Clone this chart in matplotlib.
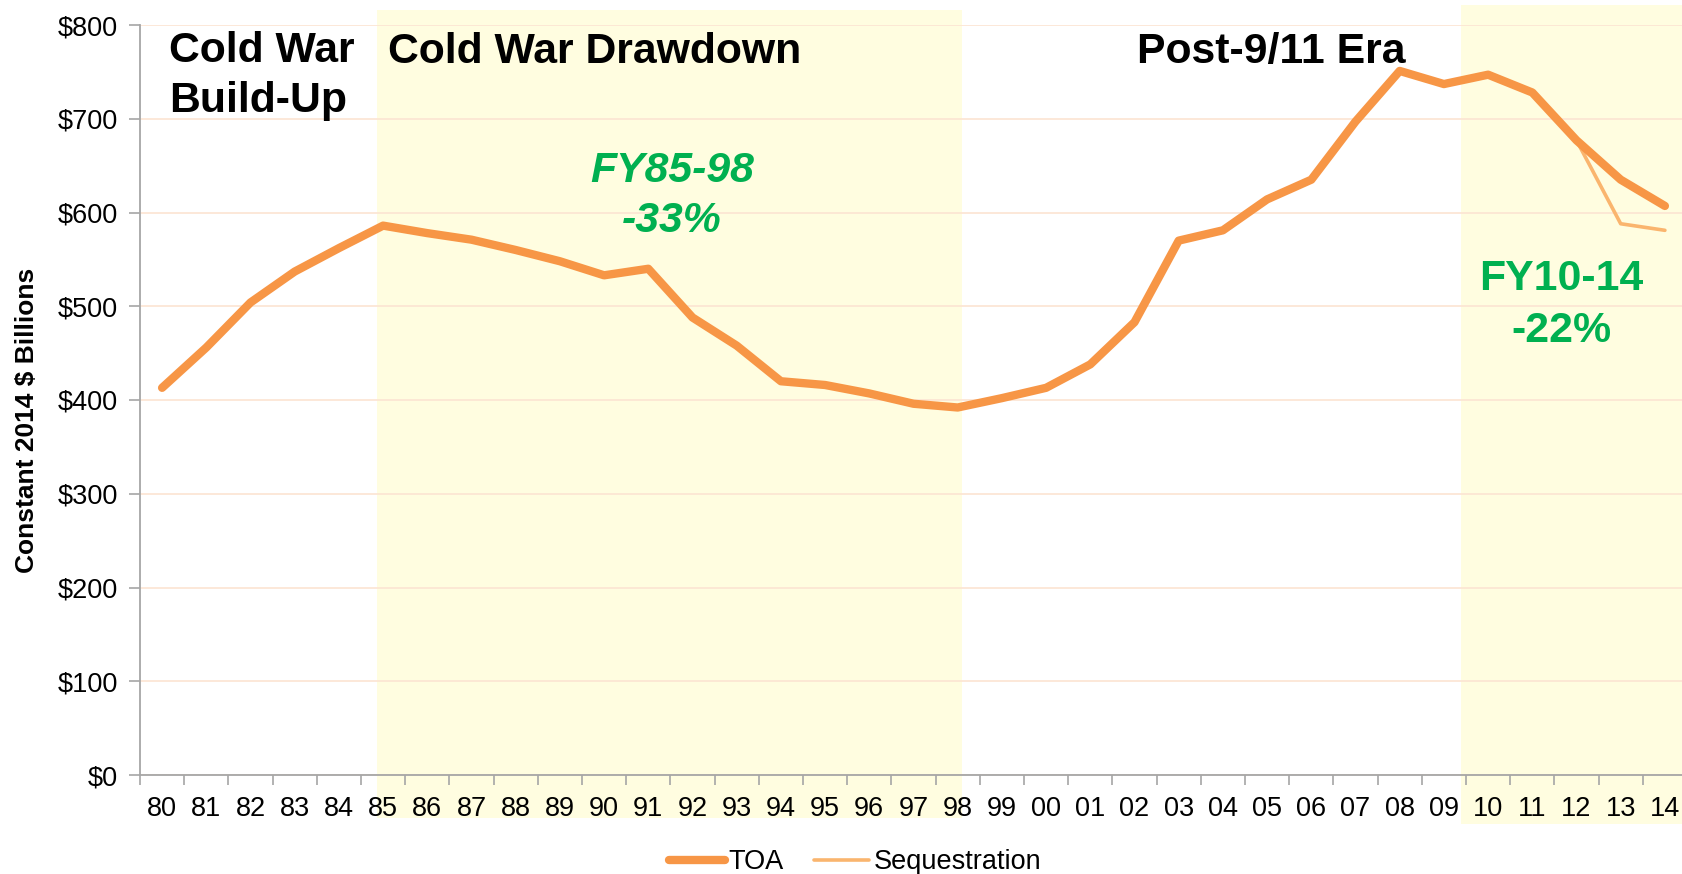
import numpy as np
import matplotlib.pyplot as plt
from matplotlib.patches import Rectangle

plt.rcParams['font.family'] = ['Liberation Sans', 'DejaVu Sans']

# fiscal years (category axis)
years = ['80', '81', '82', '83', '84', '85', '86', '87', '88', '89', '90', '91',
         '92', '93', '94', '95', '96', '97', '98', '99', '00', '01', '02', '03',
         '04', '05', '06', '07', '08', '09', '10', '11', '12', '13', '14']
toa = [413, 456, 504, 537, 562, 586, 578, 571, 560, 548, 533, 540,
       488, 458, 420, 416, 407, 396, 392, 402, 413, 438, 483, 570,
       581, 614, 635, 697, 751, 737, 747, 728, 677, 635, 607]
seq_years = ['12', '13', '14']
seq = [677, 588, 581]

y_ticks = [0, 100, 200, 300, 400, 500, 600, 700, 800]

orange = '#F79646'
light_orange = '#FAB56E'
green = '#00B050'
band = '#FFFDE0'

W, H = 1682, 874
fig = plt.figure(figsize=(W / 100, H / 100), dpi=100)
ax = fig.add_axes([140 / W, 1 - 775 / H, 1547 / W, 750 / H])

x = np.arange(len(years))
xs = np.array([years.index(y) for y in seq_years])

ax.plot(xs, seq, color=light_orange, lw=2.6, solid_capstyle='round', zorder=3, label='Sequestration')
ax.plot(x, toa, color=orange, lw=6, solid_capstyle='round', solid_joinstyle='round', zorder=4, label='TOA')

ax.set_xlim(-0.5, len(years) - 0.5)
ax.set_ylim(0, 800)

# shaded periods (extend beyond the axes like the original)
ax.add_patch(Rectangle((4.86, -46), 18.09 - 4.86, 862, facecolor=band, edgecolor='none',
                       zorder=0, clip_on=False))
ax.add_patch(Rectangle((29.38, -52), 6, 873, facecolor=band, edgecolor='none',
                       zorder=0, clip_on=False))

ax.set_axisbelow(True)
ax.set_yticks(y_ticks)
ax.set_yticklabels(['${}'.format(v) for v in y_ticks])
ax.grid(axis='y', color='#FCE4D2', lw=1.2)
ax.set_xticks(np.arange(len(years) + 1) - 0.5)
ax.set_xticklabels([])
ax.set_xticks(x, minor=True)
ax.set_xticklabels(years, minor=True)
ax.tick_params(axis='x', which='major', length=7, color='#A6A6A6', width=1.2)
ax.tick_params(axis='x', which='minor', length=0, pad=15, labelsize=19.5)
ax.tick_params(axis='y', length=7.7, color='#A6A6A6', width=1.2, pad=8, labelsize=19.5)

for s in ['top', 'right']:
    ax.spines[s].set_visible(False)
for s in ['left', 'bottom']:
    ax.spines[s].set_color('#A6A6A6')
    ax.spines[s].set_linewidth(1.3)

fig.text(27 / W, 1 - 420 / H, 'Constant 2014 $ Billions', rotation=90, ha='center', va='center',
         fontsize=19, fontweight='bold')

big = dict(fontsize=30.8, fontweight='bold', va='baseline')
fig.text(169 / W, 1 - 62 / H, 'Cold War', **big)
fig.text(169 / W, 1 - 112 / H, 'Build-Up', **big)
fig.text(388 / W, 1 - 63 / H, 'Cold War Drawdown', **big)
fig.text(1137 / W, 1 - 63 / H, 'Post-9/11 Era', **big)

note = dict(fontsize=30.8, fontweight='bold', color=green, ha='center', va='baseline')
fig.text(672 / W, 1 - 182 / H, 'FY85-98', style='italic', **note)
fig.text(672 / W, 1 - 232 / H, '-33%', style='italic', **note)
fig.text(1561 / W, 1 - 290 / H, 'FY10-14', **note)
fig.text(1561 / W, 1 - 342 / H, '-22%', **note)

h, l = ax.get_legend_handles_labels()
fig.legend(h[::-1], l[::-1], loc='center', bbox_to_anchor=(855 / W, 1 - 862 / H), ncol=2,
           frameon=False, fontsize=19.5, handlelength=2.05, handletextpad=0.15,
           columnspacing=1.1, borderpad=0)

fig.savefig('out.png', dpi=100)
